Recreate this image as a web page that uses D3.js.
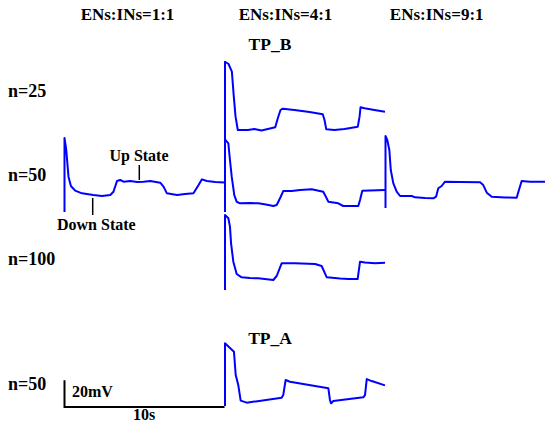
<!DOCTYPE html>
<html>
<head>
<meta charset="utf-8">
<script src="https://cdn.jsdelivr.net/npm/d3@7"></script>
<style>
  html, body { margin: 0; padding: 0; background: #fff; }
  svg text { font-family: "Liberation Serif", "Times New Roman", serif; font-weight: bold; fill: #000; }
</style>
</head>
<body>
<svg id="chart" width="545" height="423"></svg>
<script>
// ---- Data (time in s, membrane potential in mV) ----
const columnLabels = ["ENs:INs=1:1", "ENs:INs=4:1", "ENs:INs=9:1"];
const rowLabels = ["n=25", "n=50", "n=100", "n=50"];
const groupLabels = ["TP_B", "TP_A"];

// TP_B, n=25, ENs:INs=4:1
const tB_n25_r4 = [0, 0, 0.22, 0.43, 0.55, 0.66, 0.80, 1.43, 1.84, 2.28, 2.68, 3.14, 3.30, 3.47, 3.61, 4.34, 5.28, 6.11, 6.22, 6.33, 6.84, 7.47, 8.30, 8.41, 8.47, 8.72, 9.34, 10.0];
const vB_n25_r4 = [-77.5, -18.8, -20.5, -26.3, -45.0, -60.0, -70.0, -70.0, -69.3, -70.4, -69.3, -68.0, -61.2, -55.0, -54.0, -55.0, -56.5, -58.2, -62.5, -69.5, -70.0, -69.3, -67.5, -60.0, -53.0, -53.7, -55.0, -56.3];

// TP_B, n=50, ENs:INs=1:1
const tB_n50_r1 = [0, 0, 0.11, 0.25, 0.40, 0.67, 1.09, 1.81, 2.34, 2.86, 3.06, 3.28, 3.48, 3.69, 4.11, 4.54, 4.94, 5.36, 5.98, 6.19, 6.40, 7.03, 7.54, 8.06, 8.38, 8.59, 8.90, 9.42, 10.0];
const vB_n50_r1 = [-79.0, -23.5, -32.5, -52.5, -59.5, -63.0, -65.0, -66.3, -67.0, -66.3, -63.8, -55.8, -55.0, -56.3, -55.8, -56.5, -56.3, -55.8, -57.0, -60.0, -65.0, -66.3, -65.5, -65.0, -58.8, -54.5, -55.8, -56.5, -56.8];

// TP_B, n=50, ENs:INs=4:1
const tB_n50_r4 = [0, 0, 0.21, 0.31, 0.42, 0.58, 0.73, 0.94, 1.56, 2.08, 2.56, 3.02, 3.23, 3.44, 3.64, 4.17, 4.69, 5.42, 6.14, 6.25, 6.46, 7.08, 7.39, 8.33, 8.44, 8.58, 9.06, 10.0];
const vB_n50_r4 = [-79.0, -24.5, -27.5, -40.0, -52.5, -66.3, -71.3, -72.5, -72.3, -72.5, -73.4, -74.5, -73.8, -68.7, -63.3, -63.3, -62.5, -62.0, -63.8, -66.3, -71.3, -72.5, -74.5, -74.5, -70.0, -63.0, -62.9, -62.5];

// TP_B, n=50, ENs:INs=9:1
const tB_n50_r9 = [0, 0, 0.11, 0.24, 0.33, 0.49, 0.70, 0.91, 1.64, 1.84, 2.47, 2.99, 3.16, 3.30, 3.51, 3.72, 4.66, 5.91, 6.11, 6.33, 6.64, 7.47, 8.20, 8.34, 8.51, 9.03, 9.97];
const vB_n50_r9 = [-76.0, -22.0, -25.0, -32.5, -47.5, -57.5, -63.8, -67.0, -67.0, -68.0, -68.5, -68.7, -67.5, -61.2, -59.5, -56.3, -56.5, -56.7, -58.8, -64.5, -67.5, -68.1, -68.3, -62.5, -55.8, -56.3, -56.3];

// TP_B, n=100, ENs:INs=4:1
const tB_n100_r4 = [0, 0, 0.21, 0.31, 0.38, 0.52, 0.73, 1.04, 1.56, 2.08, 3.02, 3.23, 3.54, 4.38, 5.63, 6.04, 6.36, 7.19, 7.71, 8.29, 8.44, 8.75, 9.38, 10.0];
const vB_n100_r4 = [-79.0, -22.8, -25.2, -31.5, -44.0, -57.8, -67.0, -69.5, -70.0, -70.2, -71.5, -68.5, -59.0, -59.0, -59.5, -61.0, -69.5, -70.4, -70.8, -70.8, -57.8, -58.4, -59.0, -58.5];

// TP_A, n=50, ENs:INs=4:1
const tA_n50_r4 = [0, 0, 0.56, 0.67, 0.83, 0.98, 1.36, 3.54, 3.64, 3.79, 4.06, 6.46, 6.56, 6.63, 6.77, 8.64, 8.75, 8.86, 9.17, 10.0];
const vA_n50_r4 = [-74.5, -27.5, -33.8, -51.3, -58.8, -70.5, -72.0, -68.3, -66.3, -55.0, -56.3, -61.2, -70.0, -72.5, -70.8, -68.0, -66.3, -54.3, -55.8, -59.0];

// Scale bar values
const scaleBarTime = 10;   // s
const scaleBarVolt = 20;   // mV

// ---- Layout ----
const svg = d3.select("#chart");
const colX = [64.5, 225, 385.5];              // left edge of each column trace
const rowY = { r25: 130, r50: 200, r100: 278, rA: 400 }; // pixel of -70 mV per row
const titleX = [127.5, 285.5, 436.7];

const x = d3.scaleLinear().domain([0, 10]).range([0, 160]);
const y = d3.scaleLinear().domain([-70, -50]).range([0, -26.67]);

const traces = [
  { t: tB_n25_r4, v: vB_n25_r4, col: 1, row: "r25" },
  { t: tB_n50_r1, v: vB_n50_r1, col: 0, row: "r50" },
  { t: tB_n50_r4, v: vB_n50_r4, col: 1, row: "r50" },
  { t: tB_n50_r9, v: vB_n50_r9, col: 2, row: "r50" },
  { t: tB_n100_r4, v: vB_n100_r4, col: 1, row: "r100" },
  { t: tA_n50_r4, v: vA_n50_r4, col: 1, row: "rA" }
];

const line = d3.line().x(d => x(d[0])).y(d => y(d[1]));

traces.forEach(tr => {
  const pts = tr.t.map((t, i) => [t, tr.v[i]]);
  svg.append("g")
    .attr("transform", `translate(${colX[tr.col]},${rowY[tr.row]})`)
    .append("path")
    .attr("d", line(pts))
    .attr("fill", "none")
    .attr("stroke", "#0000ff")
    .attr("stroke-width", 2)
    .attr("stroke-linejoin", "round");
});

// Column titles
svg.selectAll("text.col").data(columnLabels).enter().append("text")
  .attr("class", "col")
  .attr("x", (d, i) => titleX[i]).attr("y", 20)
  .attr("text-anchor", "middle").attr("font-size", 17).text(d => d);

// Row labels
const rowLabelY = [97, 181, 265, 390];
svg.selectAll("text.row").data(rowLabels).enter().append("text")
  .attr("class", "row")
  .attr("x", 8).attr("y", (d, i) => rowLabelY[i])
  .attr("font-size", 18).text(d => d);

// Group labels
svg.append("text").attr("x", 270).attr("y", 49.5).attr("text-anchor", "middle")
  .attr("font-size", 17.5).text(groupLabels[0]);
svg.append("text").attr("x", 270).attr("y", 344).attr("text-anchor", "middle")
  .attr("font-size", 17.5).text(groupLabels[1]);

// Annotations
svg.append("text").attr("x", 139).attr("y", 161).attr("text-anchor", "middle")
  .attr("font-size", 16).text("Up State");
svg.append("line").attr("x1", 139.3).attr("x2", 139.3).attr("y1", 165).attr("y2", 180)
  .attr("stroke", "#000").attr("stroke-width", 1.5);
svg.append("text").attr("x", 57).attr("y", 230)
  .attr("font-size", 16).text("Down State");
svg.append("line").attr("x1", 92.7).attr("x2", 92.7).attr("y1", 198).attr("y2", 215)
  .attr("stroke", "#000").attr("stroke-width", 1.5);

// Scale bar
const sb = svg.append("g").attr("transform", `translate(${colX[0]},407)`);
sb.append("path")
  .attr("d", `M0,${y(-70 + scaleBarVolt)}L0,0L${x(scaleBarTime)},0`)
  .attr("fill", "none").attr("stroke", "#000").attr("stroke-width", 2);
svg.append("text").attr("x", 72).attr("y", 397).attr("font-size", 16).text(scaleBarVolt + "mV");
svg.append("text").attr("x", 133).attr("y", 420).attr("font-size", 16).text(scaleBarTime + "s");
</script>
</body>
</html>
